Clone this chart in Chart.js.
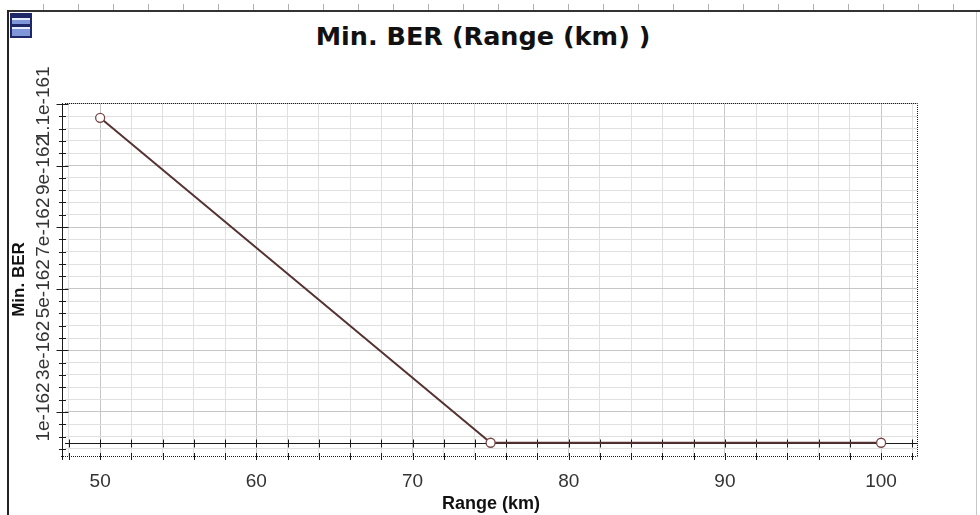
<!DOCTYPE html>
<html>
<head>
<meta charset="utf-8">
<title>Min. BER (Range (km) )</title>
<script src="https://cdn.jsdelivr.net/npm/chart.js@4.4.1/dist/chart.umd.min.js"></script>
<style>
  html, body { margin: 0; padding: 0; background: #fff; }
  #wrap { position: relative; width: 980px; height: 515px; overflow: hidden; }
  #chart { position: absolute; left: 0; top: 0; }
  .frame-left { position: absolute; left: 7px; top: 10px; width: 2px; height: 505px; background: #222; }
  .frame-top { position: absolute; left: 7px; top: 10px; width: 973px; height: 2px; background: #333; }
  .frame-right { position: absolute; left: 976px; top: 12px; width: 1px; height: 503px; background: #c8c8c8; }
  .ruler {
    position: absolute; left: 9px; top: 4px; width: 971px; height: 6px;
    background: repeating-linear-gradient(to right, transparent 0, transparent 34px, #b0b0b0 34px, #b0b0b0 35px);
  }
  .icon {
    position: absolute; left: 10px; top: 13px; width: 18px; height: 21px;
    border: 2px solid #1e2868;
    background: linear-gradient(to bottom,
      #1e2868 0, #1e2868 3px, #e8ecff 3px, #e8ecff 5px, #7f96d8 5px, #7f96d8 9px,
      #1e2868 9px, #1e2868 12px, #e8ecff 12px, #e8ecff 14px, #7f96d8 14px, #7f96d8 21px);
  }
  .chart-title {
    position: absolute; left: 0; top: 21px; width: 966px; line-height: 30px;
    text-align: center; color: #111;
    font: bold 25.5px "DejaVu Sans", sans-serif;
  }
</style>
</head>
<body>
<div id="wrap">
  <div class="ruler"></div>
  <div class="frame-top"></div>
  <div class="frame-left"></div>
  <div class="frame-right"></div>
  <div class="icon"></div>
  <div class="chart-title">Min. BER (Range (km) )</div>
  <canvas id="chart" width="980" height="515"></canvas>
</div>
<script>
// data
const rangeKm = [50, 75, 100];
const minBer = [1.055e-161, 0, 0];

// axis ticks
const xTickValues = [50, 60, 70, 80, 90, 100];
const xTickLabels = ["50", "60", "70", "80", "90", "100"];
const yTickValues = [1e-162, 3e-162, 5e-162, 7e-162, 9e-162, 1.1e-161];
const yTickLabels = ["1e-162", "3e-162", "5e-162", "7e-162", "9e-162", "1.1e-161"];

// the y scale works in units of 1e-162 (tiny numbers upset the tick maths)
const BER_UNIT = 1e-162;
const yMajors = yTickValues.map((v) => v / BER_UNIT);

const X_MIN = 47.75, X_MAX = 102.3;
const Y_MIN = -0.43, Y_MAX = 11.03;

// majors plus 4 minor ticks in between, extended to the axis ends
function buildTicks(majors, subdivisions, min, max) {
  const step = (majors[1] - majors[0]) / subdivisions;
  const out = [];
  const kMin = Math.ceil((min - majors[0]) / step - 1e-9);
  const kMax = Math.floor((max - majors[0]) / step + 1e-9);
  for (let k = kMin; k <= kMax; k++) {
    const isMajor = k >= 0 && k % subdivisions === 0 && k / subdivisions < majors.length;
    out.push({
      value: isMajor ? majors[k / subdivisions] : majors[0] + k * step,
      major: isMajor,
      idx: isMajor ? k / subdivisions : -1,
    });
  }
  return out;
}

// axis line at zero, crossing ticks, dotted frame
const axisDecor = {
  id: "axisDecor",
  beforeDatasetsDraw(chart) {
    const { ctx, chartArea: a, scales } = chart;
    const x = scales.x, y = scales.y;
    ctx.save();
    ctx.strokeStyle = "#1a1a1a";
    ctx.lineWidth = 1;

    // dotted border top / right / bottom
    ctx.setLineDash([1, 1]);
    ctx.beginPath();
    ctx.moveTo(a.left - 4, a.bottom + 0.5);
    ctx.lineTo(a.right + 0.5, a.bottom + 0.5);
    ctx.moveTo(a.left, a.top + 0.5);
    ctx.lineTo(a.right + 0.5, a.top + 0.5);
    ctx.lineTo(a.right + 0.5, a.bottom);
    ctx.stroke();
    ctx.setLineDash([]);

    // y axis line with ticks crossing it
    const ax = a.left - 2.5;
    ctx.beginPath();
    ctx.moveTo(ax, a.top);
    ctx.lineTo(ax, a.bottom + 4);
    y.ticks.forEach((t) => {
      const py = Math.round(y.getPixelForValue(t.value)) + 0.5;
      const h = t.major ? 6 : 3.5;
      ctx.moveTo(ax - h, py);
      ctx.lineTo(ax + h, py);
    });
    ctx.stroke();

    // zero line and bottom ticks
    const zy = Math.round(y.getPixelForValue(0)) + 0.5;
    ctx.beginPath();
    ctx.moveTo(a.left, zy);
    ctx.lineTo(a.right, zy);
    x.ticks.forEach((t) => {
      const px = Math.round(x.getPixelForValue(t.value)) + 0.5;
      ctx.moveTo(px, zy - 4);
      ctx.lineTo(px, zy + 4);
      ctx.moveTo(px, a.bottom - 3);
      ctx.lineTo(px, a.bottom + 4);
    });
    ctx.stroke();
    ctx.restore();
  },
};

const ctx = document.getElementById("chart").getContext("2d");
new Chart(ctx, {
  type: "line",
  data: {
    datasets: [
      {
        data: rangeKm.map((r, i) => ({ x: r, y: minBer[i] / BER_UNIT })),
        borderColor: "#553333",
        borderWidth: 2,
        pointRadius: 4.5,
        pointBorderWidth: 1.3,
        pointBackgroundColor: "#ffffff",
        pointBorderColor: "#7a4646",
        tension: 0,
      },
    ],
  },
  options: {
    responsive: false,
    animation: false,
    devicePixelRatio: 1,
    layout: { padding: { left: 0, right: 63, top: 103, bottom: 0 } },
    plugins: {
      legend: { display: false },
      tooltip: { enabled: false },
      title: { display: false },
    },
    scales: {
      x: {
        type: "linear",
        min: X_MIN,
        max: X_MAX,
        afterBuildTicks: (scale) => {
          scale.ticks = buildTicks(xTickValues, 5, X_MIN, X_MAX);
        },
        afterFit: (scale) => {
          scale.height = 59;
        },
        ticks: {
          autoSkip: false,
          maxRotation: 0,
          padding: 14,
          color: "#333",
          font: { family: "Liberation Sans", size: 19 },
          callback: (v, i, ticks) => (ticks[i].major ? xTickLabels[ticks[i].idx] : ""),
        },
        grid: {
          drawTicks: false,
          color: (c) => (c.tick && c.tick.major ? "#c6c6c6" : "#e0e0e0"),
        },
        border: { display: false },
        title: {
          display: true,
          text: "Range (km)",
          color: "#111",
          font: { family: "Liberation Sans", size: 18, weight: "bold" },
          padding: { top: 0, bottom: 0 },
        },
      },
      y: {
        type: "linear",
        min: Y_MIN,
        max: Y_MAX,
        afterBuildTicks: (scale) => {
          scale.ticks = buildTicks(yMajors, 5, Y_MIN, Y_MAX);
        },
        afterFit: (scale) => {
          scale.width = 65;
        },
        ticks: {
          autoSkip: false,
          minRotation: 90,
          maxRotation: 90,
          crossAlign: "center",
          padding: -16.5,
          color: "#333",
          font: { family: "Liberation Sans", size: 19 },
          callback: (v, i, ticks) => (ticks[i].major ? yTickLabels[ticks[i].idx] : ""),
        },
        grid: {
          drawTicks: false,
          color: (c) => (c.tick && c.tick.major ? "#c6c6c6" : "#e0e0e0"),
        },
        border: { display: false },
        title: {
          display: true,
          text: "Min. BER",
          color: "#111",
          font: { family: "Liberation Sans", size: 17, weight: "bold" },
          padding: { top: 9, bottom: 0 },
        },
      },
    },
  },
  plugins: [axisDecor],
});
</script>
</body>
</html>
